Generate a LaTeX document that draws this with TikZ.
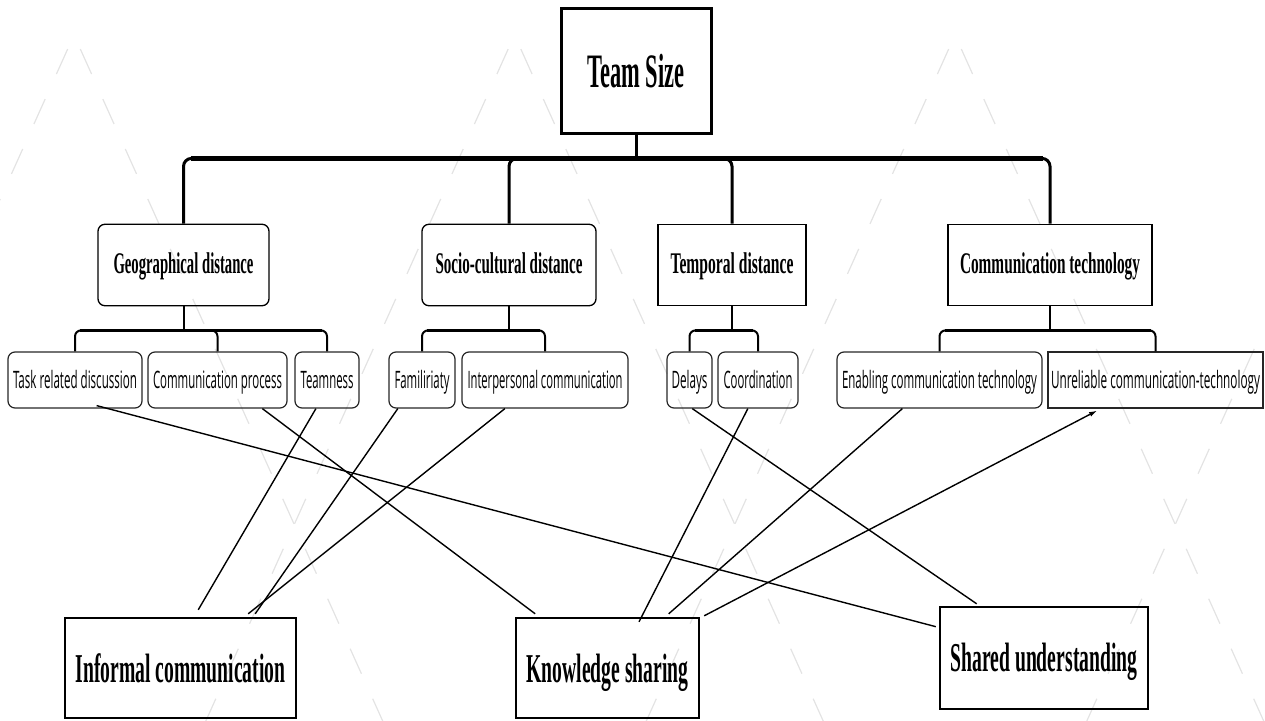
\documentclass[tikz,border=0pt]{standalone}
\usepackage{fontspec}
\usepackage{graphicx}
\setmainfont{Liberation Serif}
\newfontfamily\osans{Open Sans}
\usetikzlibrary{calc,arrows.meta}
\newcommand\fitx[2]{\resizebox{#1pt}{\height}{#2}}
\tikzset{
  pat/.style={draw=black!11, line width=1.2pt, dash pattern=on 27.4pt off 27.4pt, dash phase=39.4pt},
  topbox/.style={draw, line width=3pt, inner sep=0pt, font=\fontsize{48}{48}\selectfont\bfseries, text height=32pt, text depth=0.8pt},
  lvtwo/.style={draw, line width=1.3pt, minimum height=81.5pt, inner sep=0pt, font=\fontsize{30}{30}\selectfont\bfseries, text height=20pt, text depth=3pt},
  rnd/.style={rounded corners=7pt},
  lvthree/.style={draw=black!85, line width=1.2pt, minimum height=56pt, inner sep=0pt, rounded corners=7pt, font=\osans\fontsize{24}{24}\selectfont, text height=17pt, text depth=1pt},
  outc/.style={draw, line width=2.4pt, minimum height=100pt, inner sep=0pt, font=\fontsize{41}{41}\selectfont\bfseries, text height=28pt, text depth=0pt},
  busv/.style={line width=3pt, rounded corners=8pt},
  bush/.style={line width=5.5pt},
  subv/.style={line width=2pt, rounded corners=6pt},
  subh/.style={line width=3.5pt},
  link/.style={line width=1.4pt},
}
\begin{document}
\begin{tikzpicture}[x=1pt, y=-1pt]
\useasboundingbox (0,0) rectangle (1265,720);
% background watermark
\begin{scope}
\clip (0,0) rectangle (1265,720);
\foreach \ax in {-366.5,74,514.5,955,1395.5} {
  \draw[pat] (\ax,35) -- ++(-315,700);
  \draw[pat] (\ax,35) -- ++(315,700);
}
\end{scope}

% top
\node[topbox, minimum width=150pt, minimum height=125pt] (ts) at (636,71.4) {\fitx{97}{Team Size}};

% level 2
\node[lvtwo, rnd, minimum width=171pt] (geo) at (183.5,265) {\fitx{140}{Geographical distance}};
\node[lvtwo, rnd, minimum width=174pt] (soc) at (509,265) {\fitx{147}{Socio-cultural distance}};
\node[lvtwo, minimum width=148pt] (tem) at (732,265) {\fitx{123}{Temporal distance}};
\node[lvtwo, minimum width=204pt] (com) at (1050,265) {\fitx{180}{Communication technology}};

% level 3
\node[lvthree, minimum width=134pt] (task) at (75,380) {\fitx{124}{Task related discussion}};
\node[lvthree, minimum width=139pt] (cpr) at (217.5,380) {\fitx{129}{Communication process}};
\node[lvthree, minimum width=64pt] (tea) at (327,380) {\fitx{53}{Teamness}};
\node[lvthree, minimum width=66pt] (fam) at (422,380) {\fitx{55}{Familiriaty}};
\node[lvthree, minimum width=166pt] (ipc) at (545,380) {\fitx{155}{Interpersonal communication}};
\node[lvthree, minimum width=45pt] (del) at (689.5,380) {\fitx{36}{Delays}};
\node[lvthree, minimum width=80pt] (coo) at (758,380) {\fitx{69}{Coordination}};
\node[lvthree, minimum width=205pt] (ect) at (939.5,380) {\fitx{195}{Enabling communication technology}};
\node[lvthree, sharp corners, minimum width=215pt] (uct) at (1155.5,380) {\fitx{209}{Unreliable communication-technology}};

% outcomes
\node[outc, minimum width=231pt] (inf) at (180.5,668) {\fitx{210}{Informal communication}};
\node[outc, minimum width=183pt] (kno) at (607.5,668) {\fitx{162}{Knowledge sharing}};
\node[outc, minimum width=208pt, minimum height=102pt, text height=27pt, text depth=1pt] (sha) at (1044,658) {\fitx{187}{Shared understanding}};

% main bus
\coordinate (b0) at ($(ts.south)+(0,23)$);
\draw[line width=3pt] (ts.south) -- (b0);
\foreach \c in {geo,soc,tem,com} \draw[busv] (b0) -| (\c.north);
\draw[bush] ($(b0 -| geo.north)+(7,0)$) -- ($(b0 -| com.north)+(-7,0)$);

% sub buses
\coordinate (g0) at ($(geo.south)+(0,24)$);
\draw[subv] (geo.south) -- (g0);
\foreach \c in {task,cpr,tea} \draw[subv] (g0) -| (\c.north);
\draw[subh] ($(g0 -| task.north)+(5,0)$) -- ($(g0 -| tea.north)+(-5,0)$);

\coordinate (s0) at ($(soc.south)+(0,24)$);
\draw[subv] (soc.south) -- (s0);
\foreach \c in {fam,ipc} \draw[subv] (s0) -| (\c.north);
\draw[subh] ($(s0 -| fam.north)+(5,0)$) -- ($(s0 -| ipc.north)+(-5,0)$);

\coordinate (t0) at ($(tem.south)+(0,24)$);
\draw[subv] (tem.south) -- (t0);
\foreach \c in {del,coo} \draw[subv] (t0) -| (\c.north);
\draw[subh] ($(t0 -| del.north)+(5,0)$) -- ($(t0 -| coo.north)+(-5,0)$);

\coordinate (c0) at ($(com.south)+(0,24)$);
\draw[subv] (com.south) -- (c0);
\foreach \c in {ect,uct} \draw[subv] (c0) -| (\c.north);
\draw[subh] ($(c0 -| ect.north)+(5,0)$) -- ($(c0 -| uct.north)+(-5,0)$);

% cross links
\draw[link] ($(task.south west)!0.66!(task.south east)+(0,-3)$) -- ($(sha.north west)!0.2!(sha.south west)+(-3,0)$);
\draw[link] ($(cpr.south west)!0.82!(cpr.south east)$) -- ($(kno.north west)!0.11!(kno.north east)+(0,-3)$);
\draw[link] ($(tea.south west)!0.33!(tea.south east)$) -- ($(inf.north west)!0.576!(inf.north east)+(0,-7)$);
\draw[link] ($(fam.south west)!0.14!(fam.south east)$) -- ($(inf.north west)!0.82!(inf.north east)+(0,-3)$);
\draw[link] ($(ipc.south west)!0.26!(ipc.south east)$) -- ($(inf.north west)!0.79!(inf.north east)+(0,-3)$);
\draw[link] ($(del.south west)!0.56!(del.south east)$) -- ($(sha.north west)!0.18!(sha.north east)+(0,-2)$);
\draw[link] ($(coo.south west)!0.375!(coo.south east)$) -- ($(kno.north west)!0.67!(kno.north east)+(0,5)$);
\draw[link] ($(ect.south west)!0.32!(ect.south east)$) -- ($(kno.north west)!0.83!(kno.north east)+(0,-3)$);
\draw[link, -{Latex[length=8pt,width=5pt]}] ($(kno.north east)+(4,-1)$) -- ($(uct.south west)!0.23!(uct.south east)+(0,2)$);
\end{tikzpicture}
\end{document}
